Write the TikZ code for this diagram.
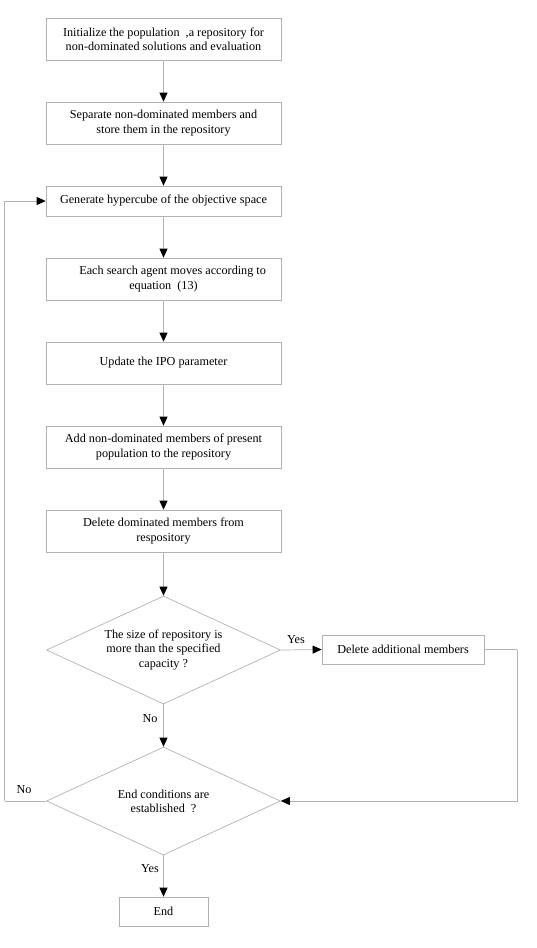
\documentclass[tikz,border=0pt]{standalone}
\usepackage{fontspec}
\setmainfont{Liberation Serif}
\usepackage{tikz}
\usetikzlibrary{
    shapes.geometric,
    positioning,
    arrows.meta
}

\begin{document}
\begin{tikzpicture}[x=1pt, y=-1pt, font=\fontsize{12.2}{14.3}\selectfont]
  \useasboundingbox (0,0) rectangle (536,948);

  % Define box and arrow styles:
  \tikzset{
    process/.style={draw=gray!60, line width=0.7pt, rectangle, align=center,
                    minimum width=235pt, minimum height=42pt, inner sep=2pt},
    decision/.style={draw=gray!60, line width=0.7pt, diamond, aspect=2.17, align=center,
                     minimum width=234pt, minimum height=108pt, inner sep=0pt},
    flow/.style={draw=gray!60, line width=0.7pt,
                 -{Triangle[length=9pt, width=8pt, color=black]}},
    plain/.style={draw=gray!60, line width=0.7pt}
  };

  % Main column of steps
  \node[process] (init) at (163.5,39) {Initialize the population\ \ ,a repository for\\ non-dominated solutions and evaluation};
  \node[process] (sep) at (163.5,123) {Separate non-dominated members and\\ store them in the repository};
  \node[process, minimum height=30pt] (gen) at (163.5,201) {Generate hypercube of the objective space};
  \node[process] (move) at (163.5,279) {\hspace{1.5em}Each search agent moves according to\\ equation\ \ (13)};
  \node[process] (upd) at (163.5,363) {Update the IPO parameter};
  \node[process] (add) at (163.5,447) {Add non-dominated members of present\\ population to the repository};
  \node[process] (del) at (163.5,531) {Delete dominated members from\\ respository};

  % Decisions
  \node[decision] (size) at (163.5,650) {The size of repository is\\ more than the specified\\ capacity ?};
  \node[decision] (stop) at (163.5,801) {End conditions are\\ established\ \ ?};

  % Side box and end box
  \node[process, minimum width=162pt, minimum height=29pt] (extra) at (403,649.5) {Delete additional members};
  \node[process, minimum width=89pt, minimum height=29pt] (fin) at (163.5,911.5) {End};

  % Loop corners
  \coordinate (loopL) at (4.5,801);
  \coordinate (loopR) at (517,649.5);

  % Connectors down the column
  \draw[flow] (init) -- (sep);
  \draw[flow] (sep) -- (gen);
  \draw[flow] (gen) -- (move);
  \draw[flow] (move) -- (upd);
  \draw[flow] (upd) -- (add);
  \draw[flow] (add) -- (del);
  \draw[flow] (del) -- (size);
  \draw[flow] (size) -- (stop);
  \draw[flow] (stop) -- (fin);

  % Side branches
  \draw[flow] (size.east) -- (extra.west);
  \draw[plain] (extra.east) -- (loopR);
  \draw[flow] (loopR) |- (stop.east);
  \draw[plain] (stop.west) -- (loopL);
  \draw[flow] (loopL) |- (gen.west);

  % Branch labels
  \node (yes1) at (296,640) {Yes};
  \node (no1) at (150,719) {No};
  \node (no2) at (24,790) {No};
  \node (yes2) at (150,869) {Yes};
\end{tikzpicture}
\end{document}
